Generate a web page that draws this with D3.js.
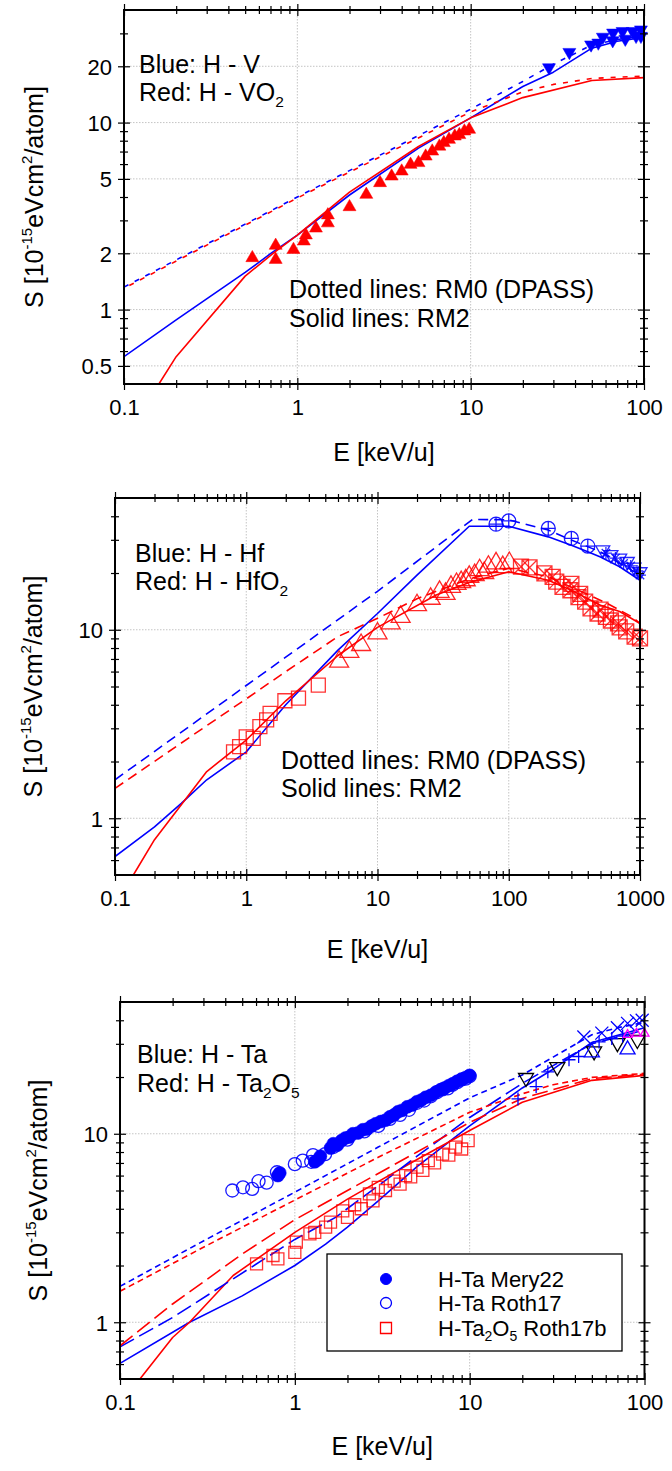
<!DOCTYPE html>
<html><head><meta charset="utf-8">
<script src="https://cdn.jsdelivr.net/npm/d3@7"></script>
<style>body{margin:0;background:#fff} svg{display:block}</style>
</head><body><svg id="c" width="672" height="1471"></svg>
<script>
// ---------------- DATA ----------------
// Panel 1: H - V (blue), H - VO2 (red)
const p1BlueRM2E = [0.1,0.2,0.5,0.7,1,2,5,10,20,30,50,70,100];
const p1BlueRM2S = [0.56,0.88,1.58,1.99,2.5,4.1,7.3,10.6,15.6,18.6,25.0,27.2,28.5];
const p1BlueRM0E = [0.1,1,10,20,30,50,70,100];
const p1BlueRM0S = [1.32,4.0,11.8,16.6,20.5,26.0,27.8,29.0];
const p1RedRM0E = [0.1,1,10,20,30,50,70,100];
const p1RedRM0S = [1.30,3.95,11.4,14.6,16.0,17.2,17.5,17.7];
const p1RedRM2E = [0.159,0.2,0.5,0.75,1,2,5,10,20,50,100];
const p1RedRM2S = [0.40,0.56,1.51,2.05,2.5,4.25,7.45,10.6,13.6,16.8,17.4];
const p1VO2E = [0.55,0.75,0.75,0.95,1.09,1.12,1.28,1.5,1.5,2.0,2.5,3.0,3.5,4.0,4.5,5.0,5.5,6.0,6.6,7.0,7.5,8.1,8.6,9.2,9.8];
const p1VO2S = [1.89,2.20,1.85,2.09,2.32,2.5,2.72,3.2,2.9,3.54,4.12,4.76,5.16,5.49,5.96,6.09,6.6,7.02,7.46,7.79,8.11,8.45,8.6,8.99,9.18];
const p1VE = [28.3,37.1,49.5,54.5,57.9,66.3,66,75.2,78,86,90,96,96];
const p1VS = [19.7,23.8,26.1,26.7,28.7,30.2,27.5,30.8,28,30.8,29,31.4,29];

// Panel 2: H - Hf (blue), H - HfO2 (red)
const p2BlueRM2E = [0.1,0.2,0.32,0.5,1,2,5,10,20,50,100,200,300,400,500,700,1000];
const p2BlueRM2S = [0.626,0.9,1.2,1.6,2.25,4.0,7.8,12.2,19.5,35.4,35.4,31.1,28.1,25.9,24.3,21.6,18.3];
const p2BlueRM0E = [0.1,1,10,53,100,200,300,500,1000];
const p2BlueRM0S = [1.6,5.06,16.0,38.5,38.3,33.8,29.9,25.9,19.5];
const p2RedRM0E = [0.1,0.5,1,2,5,10,20,30,50,100,200,340,550,870,1000];
const p2RedRM0S = [1.44,3.1,4.3,6.0,9.2,11.5,14.6,16.3,18.6,21.2,19.1,16.2,13.9,11.7,10.8];
const p2RedRM2E = [0.138,0.2,0.5,1,2,5,10,28,50,100,200,300,500,700,1000];
const p2RedRM2S = [0.5,0.77,1.77,2.6,4.2,7.3,10.3,15.3,17.8,20.3,18.3,16.2,13.5,12.5,10.8];
const p2SqE = [0.80,0.89,1.0,1.13,1.27,1.43,1.52,1.97,2.5,3.54];
const p2SqS = [2.25,2.40,2.7,2.65,3.06,3.33,3.6,4.2,4.34,5.09];
const p2TriE = [5.1,6.1,7.5,10,12.6,15,20,25.4,29.7,33,36.3,40,43.4,47,50,55,60,65,70,80,90,101];
const p2TriS = [6.77,7.64,8.3,9.56,10.8,11.7,13.5,14.6,15.9,15.5,16.9,17.5,17.9,18.3,19.1,19.5,20.7,20.0,21.6,22.5,21.5,22.6];
const p2CircE = [80,100,200,300,400];
const p2CircS = [36.3,37.8,34.5,30.5,27.8];
const p2BTriE = [520,600,700,800,900,1000];
const p2BTriS = [26.5,25.0,24.0,23.0,21.5,20.3];
const p2StarE = [550,650,750,850,950,1000];
const p2StarS = [25.5,24.0,22.5,21.8,20.5,19.5];
const p2SqXE = [124,144,187,216,230,257,295,300,340,350,382,420,475,500,550,600,680,700,785,910,1000];
const p2SqXS = [21.6,21.4,19.9,19.1,18.0,16.9,16.2,17.5,14.9,15.5,14.1,13.0,12.2,12.8,11.7,11.2,10.8,10.3,9.8,9.2,9.0];

// Panel 3: H - Ta (blue), H - Ta2O5 (red)
const p3BlueRM0E = [0.1,0.3,1,3,10,20,30,50,70,100];
const p3BlueRM0S = [1.55,2.7,4.9,8.5,15.5,20.5,25.5,33.5,36.5,39.0];
const p3RedRM0E = [0.1,0.3,1,3,10,20,30,50,100];
const p3RedRM0S = [1.46,2.5,4.45,7.5,13.0,16.3,18.2,19.9,20.9];
const p3BlueRM1E = [0.1,0.2,0.444,1,1.71,3,5,10,20,30,50,100];
const p3BlueRM1S = [0.74,1.06,1.7,2.75,3.6,5.3,7.6,12.2,18.5,23,30,35.5];
const p3RedRM1E = [0.1,0.2,0.5,1,2,5,10,20,50,100];
const p3RedRM1S = [0.75,1.25,2.3,3.5,5.0,8.0,11.5,15.4,19.6,20.7];
const p3BlueRM2E = [0.1,0.25,0.5,1,1.5,2,3,5,10,20,30,50,100];
const p3BlueRM2S = [0.605,1.0,1.38,2.0,2.6,3.2,4.4,6.7,11.0,17.5,22,30.5,36.5];
const p3RedRM2E = [0.13,0.2,0.25,0.444,1,2,5,10,20,50,100];
const p3RedRM2S = [0.5,0.83,1.0,1.77,3.0,4.5,7.3,10.4,14.7,19.2,20.4];
const p3MeryE = [0.8,0.82,1.3,1.36,1.4,1.6,1.66,1.75,1.85,1.95,2.05,2.15,2.3,2.45,2.6,2.75,2.9,3.1,3.3,3.5,3.7,3.9,4.1,4.4,4.7,5.0,5.3,5.6,6.0,6.4,6.8,7.2,7.6,8.0,8.5,9.0,9.5,10];
const p3MeryS = [6.0,6.2,7.1,7.3,7.6,8.4,8.85,8.7,9.2,9.5,9.6,10.0,10.1,10.5,10.6,11.0,11.3,11.6,11.8,12.3,12.6,13.1,13.3,13.9,14.2,14.8,15.1,15.6,16.0,16.6,17.1,17.5,18.0,18.4,19.0,19.4,19.9,20.4];
const p3RothE = [0.439,0.505,0.57,0.62,0.69,0.79,1.0,1.11,1.24,1.27,1.49,1.66,2.0,2.5,3.0,3.5,4.0,4.5,5,5.5,6,6.5,7,7.5,8,8.5,9,9.5,10];
const p3RothS = [5.0,5.2,5.1,5.6,5.5,6.25,6.9,7.2,7.1,7.7,7.8,8.5,9.3,10.3,11,12,12.6,13.4,14.6,15,15.8,16.6,17.2,17.4,18.2,18.8,19.4,19.6,20.2];
const p3Roth17bE = [0.604,0.75,0.8,1.0,1.02,1.22,1.3,1.5,1.6,1.88,2.0,2.2,2.4,2.67,2.8,3.0,3.3,3.7,4.0,4.3,4.6,5.0,5.4,5.8,6.3,7.0,7.6,8.3,9.0,9.8];
const p3Roth17bS = [2.04,2.26,2.17,2.35,2.66,2.94,3.0,3.2,3.4,3.9,3.6,4.2,4.0,4.8,4.4,5.2,5.0,5.6,5.4,6.0,5.9,6.65,6.4,7.2,7.0,7.8,7.7,8.5,8.3,9.2];
const p3BkTriE = [21,31.7,51.5,70,91];
const p3BkTriS = [19.8,22.6,27.4,30.3,31.5];
const p3PlusE = [18.9,24,28,37,42,55,65,75];
const p3PlusS = [15.3,17.8,21.3,24.7,25.7,30.7,32,33];
const p3CrossE = [45,57,70,80,90,97];
const p3CrossS = [32.6,34.2,36.5,38.5,39.7,40];
const p3BTriUpE = [50,80];
const p3BTriUpS = [27,28];
const p3MagE = [80,90,100];
const p3MagS = [33.5,34,34];
const p3LegendLabels = ["H-Ta Mery22","H-Ta Roth17","H-Ta2O5 Roth17b"];

// ---------------- DRAWING ----------------
const FONT = '"Liberation Sans", Arial, Helvetica, sans-serif';
const BLUE = '#0000ff', RED = '#ff0000';
const svg = d3.select('#c');
svg.append('rect').attr('width',672).attr('height',1471).attr('fill','#fff');

function decadeMinors(lo, hi){
  const out=[];
  for(let e=Math.floor(Math.log10(lo)); e<=Math.ceil(Math.log10(hi)); e++){
    for(let m=2;m<=9;m++){const v=m*Math.pow(10,e); if(v>lo*1.0001 && v<hi*0.9999) out.push(+v.toPrecision(3));}
  }
  return out;
}

function makePanel(o){
  const x = d3.scaleLog().domain(o.xd).range([o.l,o.r]);
  const y = d3.scaleLog().domain(o.yd).range([o.b,o.t]);
  const g = svg.append('g');
  const clipId = 'clip'+o.id;
  svg.append('clipPath').attr('id',clipId).append('rect')
    .attr('x',o.l).attr('y',o.t).attr('width',o.r-o.l).attr('height',o.b-o.t);
  const grid = g.append('g').attr('stroke','#c4c4c4').attr('stroke-width',1).attr('stroke-dasharray','1.5,1.5');
  grid.selectAll('line.gx').data(o.gridX).join('line').attr('class','gx')
    .attr('x1',d=>x(d)).attr('x2',d=>x(d)).attr('y1',o.t).attr('y2',o.b);
  grid.selectAll('line.gy').data(o.gridY).join('line').attr('class','gy')
    .attr('y1',d=>y(d)).attr('y2',d=>y(d)).attr('x1',o.l).attr('x2',o.r);
  return {x,y,g,clipId,o};
}

function drawAxes(P){
  const {x,y,g,o} = P;
  const xMaj = o.xMaj, xMin = decadeMinors(o.xd[0],o.xd[1]);
  const yMaj = o.yMaj, yMin = o.yMin;
  const fmt = d=>String(d);
  function crossTicks(sel, len, horiz){
    sel.select('.domain').remove();
    if(horiz) sel.selectAll('.tick line').attr('y1',-len).attr('y2',len);
    else sel.selectAll('.tick line').attr('x1',-len).attr('x2',len);
    sel.selectAll('.tick line').attr('stroke-width',1.2);
  }
  const b1 = g.append('g').attr('transform',`translate(0,${o.b})`).call(d3.axisBottom(x).tickValues(xMaj).tickFormat(fmt).tickSize(6));
  crossTicks(b1,6,true);
  b1.attr('font-family',FONT).attr('font-size',22);
  b1.selectAll('.tick text').attr('y',o.xLabOff).attr('dy',0).attr('fill','#000');
  const b2 = g.append('g').attr('transform',`translate(0,${o.b})`).call(d3.axisBottom(x).tickValues(xMin).tickFormat('').tickSize(4));
  crossTicks(b2,4,true);
  const t1 = g.append('g').attr('transform',`translate(0,${o.t})`).call(d3.axisTop(x).tickValues(xMaj).tickFormat('').tickSize(6));
  crossTicks(t1,6,true);
  const t2 = g.append('g').attr('transform',`translate(0,${o.t})`).call(d3.axisTop(x).tickValues(xMin).tickFormat('').tickSize(4));
  crossTicks(t2,4,true);
  const l1 = g.append('g').attr('transform',`translate(${o.l},0)`).call(d3.axisLeft(y).tickValues(yMaj).tickFormat(fmt).tickSize(6));
  crossTicks(l1,6,false);
  l1.attr('font-family',FONT).attr('font-size',22);
  l1.selectAll('.tick text').attr('x',-12).attr('dy','0.36em').attr('fill','#000');
  const l2 = g.append('g').attr('transform',`translate(${o.l},0)`).call(d3.axisLeft(y).tickValues(yMin).tickFormat('').tickSize(4));
  crossTicks(l2,4,false);
  const r1 = g.append('g').attr('transform',`translate(${o.r},0)`).call(d3.axisRight(y).tickValues(yMaj).tickFormat('').tickSize(6));
  crossTicks(r1,6,false);
  const r2 = g.append('g').attr('transform',`translate(${o.r},0)`).call(d3.axisRight(y).tickValues(yMin).tickFormat('').tickSize(4));
  crossTicks(r2,4,false);
  g.append('rect').attr('x',o.l).attr('y',o.t).attr('width',o.r-o.l).attr('height',o.b-o.t)
    .attr('fill','none').attr('stroke','#000').attr('stroke-width',2);
  g.append('text').attr('x',(o.l+o.r)/2).attr('y',o.xTitleY).attr('text-anchor','middle')
    .attr('font-family',FONT).attr('font-size',25).text('E [keV/u]');
  const yt = g.append('text').attr('transform',`translate(${o.yTitleX},${(o.t+o.b)/2}) rotate(-90)`)
    .attr('text-anchor','middle').attr('font-family',FONT).attr('font-size',25);
  yt.append('tspan').text('S [10');
  yt.append('tspan').attr('font-size',15).attr('dy',-11).text('-15');
  yt.append('tspan').attr('dy',11).text('eVcm');
  yt.append('tspan').attr('font-size',15).attr('dy',-11).text('2');
  yt.append('tspan').attr('dy',11).text('/atom]');
}

function drawLine(P, E, S, color, dash, offset, width){
  const line = d3.line().x(d=>P.x(d[0])).y(d=>P.y(d[1]));
  P.g.append('path').attr('clip-path',`url(#${P.clipId})`).attr('d',line(d3.zip(E,S)))
    .attr('fill','none').attr('stroke',color).attr('stroke-width',width||1.6)
    .attr('stroke-dasharray',dash||null).attr('stroke-dashoffset',offset||0)
    .attr('stroke-linejoin','round');
}

function markerPath(kind, s){
  const h=s/2;
  switch(kind){
    case 'triUp': { const r=s*0.577, b=s*0.289; return `M0,${-r}L${h},${b}L${-h},${b}Z`; }
    case 'triDown': { const r=s*0.577, b=s*0.289; return `M0,${r}L${h},${-b}L${-h},${-b}Z`; }
    case 'square': return `M${-h},${-h}H${h}V${h}H${-h}Z`;
    case 'squareX': return `M${-h},${-h}H${h}V${h}H${-h}ZM${-h},${-h}L${h},${h}M${h},${-h}L${-h},${h}`;
    case 'circle': return `M${h},0A${h},${h} 0 1,1 ${-h},0A${h},${h} 0 1,1 ${h},0Z`;
    case 'circlePlus': return `M${h},0A${h},${h} 0 1,1 ${-h},0A${h},${h} 0 1,1 ${h},0ZM${-h},0H${h}M0,${-h}V${h}`;
    case 'plus': return `M${-h},0H${h}M0,${-h}V${h}`;
    case 'cross': return `M${-h},${-h}L${h},${h}M${h},${-h}L${-h},${h}`;
    case 'star': return `M${-h},0H${h}M0,${-h}V${h}M${-h*0.7},${-h*0.7}L${h*0.7},${h*0.7}M${h*0.7},${-h*0.7}L${-h*0.7},${h*0.7}`;
  }
}

function drawMarkers(P, E, S, kind, s, color, filled, opacity){
  P.g.append('g').selectAll('path').data(d3.zip(E,S)).join('path')
    .attr('transform',d=>`translate(${P.x(d[0])},${P.y(d[1])})`)
    .attr('d',markerPath(kind,s))
    .attr('fill',filled?color:'none').attr('stroke',color).attr('stroke-width',filled?0.5:1.3)
    .attr('stroke-opacity',opacity||1).attr('fill-opacity',opacity||1);
}

function label(P, x, y, parts, size){
  const t = P.g.append('text').attr('x',x).attr('y',y).attr('font-family',FONT).attr('font-size',size||25).attr('fill','#000');
  parts.forEach(p=>{
    const ts = t.append('tspan').text(p.t);
    if(p.sub){ ts.attr('font-size',(size||25)*0.62).attr('dy',p.dy); }
    else if(p.dy) ts.attr('dy',p.dy);
  });
}

// ---- Panel 1
const P1 = makePanel({id:1,l:124,r:644,t:10,b:384,xd:[0.1,100],yd:[0.4,40],
  gridX:[1,10],gridY:[0.5,1,2,5,10,20]});
drawLine(P1,p1BlueRM2E,p1BlueRM2S,BLUE);
drawLine(P1,p1RedRM2E,p1RedRM2S,RED);
drawLine(P1,p1BlueRM0E,p1BlueRM0S,BLUE,'5,7',0);
drawLine(P1,p1RedRM0E,p1RedRM0S,RED,'5,7',-6);
drawMarkers(P1,p1VO2E,p1VO2S,'triUp',13,RED,true);
drawMarkers(P1,p1VE,p1VS,'triDown',13,BLUE,true);
label(P1,139,73,[{t:'Blue: H - V'}]);
label(P1,139,101,[{t:'Red: H - VO'},{t:'2',sub:true,dy:6}]);
label(P1,289,298,[{t:'Dotted lines: RM0 (DPASS)'}]);
label(P1,289,327,[{t:'Solid lines: RM2'}]);
P1.o.xMaj=[0.1,1,10,100]; P1.o.yMaj=[0.5,1,2,5,10,20]; P1.o.yMin=[0.6,0.7,0.8,0.9,3,4,6,7,8,9,30];
P1.o.xLabOff=31; P1.o.xTitleY=461; P1.o.yTitleX=43;
drawAxes(P1);

// ---- Panel 2
const P2 = makePanel({id:2,l:115,r:640,t:498,b:875,xd:[0.1,1000],yd:[0.5,50],
  gridX:[1,10,100],gridY:[1,10]});
drawLine(P2,p2BlueRM2E,p2BlueRM2S,BLUE);
drawLine(P2,p2RedRM2E,p2RedRM2S,RED);
drawLine(P2,p2BlueRM0E,p2BlueRM0S,BLUE,'10,6',0);
drawLine(P2,p2RedRM0E,p2RedRM0S,RED,'10,6',0);
drawMarkers(P2,p2SqE,p2SqS,'square',14,RED,false,0.8);
drawMarkers(P2,p2TriE,p2TriS,'triUp',19,RED,false,0.85);
drawMarkers(P2,p2SqXE,p2SqXS,'squareX',15,RED,false,0.8);
drawMarkers(P2,p2CircE,p2CircS,'circlePlus',14,BLUE,false,0.9);
drawMarkers(P2,p2BTriE,p2BTriS,'triDown',14,BLUE,false,0.85);
drawMarkers(P2,p2StarE,p2StarS,'star',12,BLUE,false,0.85);
label(P2,135,562,[{t:'Blue: H - Hf'}]);
label(P2,135,590,[{t:'Red: H - HfO'},{t:'2',sub:true,dy:6}]);
label(P2,281,769,[{t:'Dotted lines: RM0 (DPASS)'}]);
label(P2,281,797,[{t:'Solid lines: RM2'}]);
P2.o.xMaj=[0.1,1,10,100,1000]; P2.o.yMaj=[1,10]; P2.o.yMin=[0.6,0.7,0.8,0.9,2,3,4,5,6,7,8,9,20,30,40];
P2.o.xLabOff=31; P2.o.xTitleY=958; P2.o.yTitleX=42;
drawAxes(P2);

// ---- Panel 3
const P3 = makePanel({id:3,l:120,r:644.5,t:1002,b:1379,xd:[0.1,100],yd:[0.5,50],
  gridX:[1,10],gridY:[1,10]});
drawLine(P3,p3BlueRM2E,p3BlueRM2S,BLUE);
drawLine(P3,p3RedRM2E,p3RedRM2S,RED);
drawLine(P3,p3BlueRM1E,p3BlueRM1S,BLUE,'16,6',0);
drawLine(P3,p3RedRM1E,p3RedRM1S,RED,'16,6',0);
drawLine(P3,p3BlueRM0E,p3BlueRM0S,BLUE,'6,4',0);
drawLine(P3,p3RedRM0E,p3RedRM0S,RED,'6,4',0);
drawMarkers(P3,p3Roth17bE,p3Roth17bS,'square',12,RED,false,0.8);
drawMarkers(P3,p3RothE,p3RothS,'circle',13,BLUE,false,0.9);
drawMarkers(P3,p3MeryE,p3MeryS,'circle',13,BLUE,true);
drawMarkers(P3,p3BkTriE,p3BkTriS,'triDown',15,'#000',false);
drawMarkers(P3,p3PlusE,p3PlusS,'plus',13,BLUE,false);
drawMarkers(P3,p3CrossE,p3CrossS,'cross',13,BLUE,false);
drawMarkers(P3,p3BTriUpE,p3BTriUpS,'triUp',15,BLUE,false);
drawMarkers(P3,p3MagE,p3MagS,'triUp',9,'#ff00ff',false);
label(P3,137,1063,[{t:'Blue: H - Ta'}]);
label(P3,137,1092,[{t:'Red: H - Ta'},{t:'2',sub:true,dy:6},{t:'O',dy:-6},{t:'5',sub:true,dy:6}]);
P3.o.xMaj=[0.1,1,10,100]; P3.o.yMaj=[1,10]; P3.o.yMin=[0.6,0.7,0.8,0.9,2,3,4,5,6,7,8,9,20,30,40];
P3.o.xLabOff=31; P3.o.xTitleY=1455; P3.o.yTitleX=47;
drawAxes(P3);

// Legend panel 3
const lg = P3.g.append('g');
lg.append('rect').attr('x',327).attr('y',1254).attr('width',295).attr('height',97)
  .attr('fill','#fff').attr('stroke','#000').attr('stroke-width',1.3);
const legY = [1279,1303,1328];
lg.append('path').attr('transform',`translate(386,${legY[0]})`).attr('d',markerPath('circle',11)).attr('fill',BLUE).attr('stroke',BLUE);
lg.append('path').attr('transform',`translate(386,${legY[1]})`).attr('d',markerPath('circle',11)).attr('fill','none').attr('stroke',BLUE).attr('stroke-width',1.3);
lg.append('path').attr('transform',`translate(386,${legY[2]})`).attr('d',markerPath('square',11)).attr('fill','none').attr('stroke',RED).attr('stroke-width',1.3);
lg.append('text').attr('x',438).attr('y',legY[0]+8).attr('font-family',FONT).attr('font-size',22).text(p3LegendLabels[0]);
lg.append('text').attr('x',438).attr('y',legY[1]+8).attr('font-family',FONT).attr('font-size',22).text(p3LegendLabels[1]);
const lt2 = lg.append('text').attr('x',438).attr('y',legY[2]+8).attr('font-family',FONT).attr('font-size',22);
lt2.append('tspan').text('H-Ta');
lt2.append('tspan').attr('font-size',14).attr('dy',5).text('2');
lt2.append('tspan').attr('dy',-5).text('O');
lt2.append('tspan').attr('font-size',14).attr('dy',5).text('5');
lt2.append('tspan').attr('dy',-5).text(' Roth17b');
</script></body></html>
